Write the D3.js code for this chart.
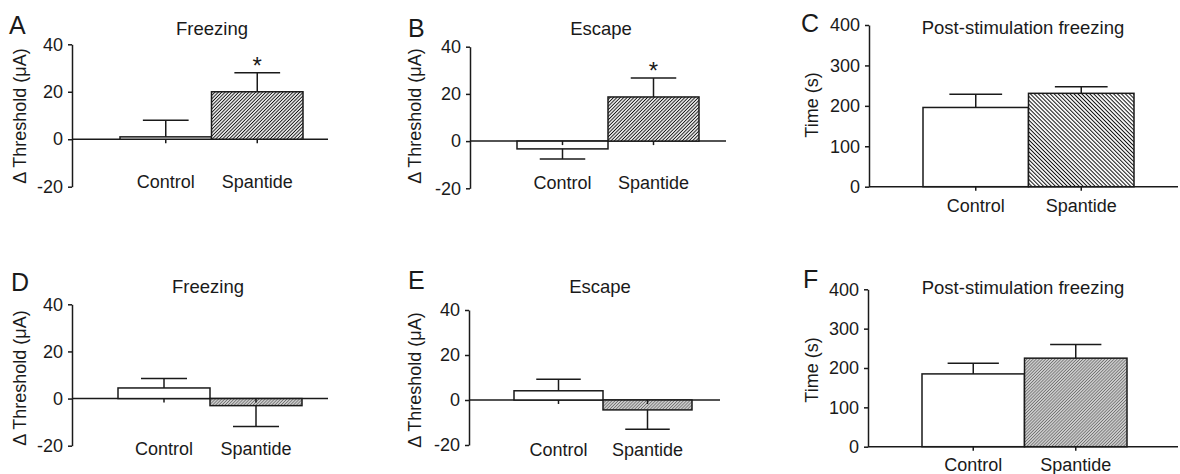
<!DOCTYPE html>
<html>
<head>
<script src="https://d3js.org/d3.v7.min.js"></script>
<style>
  body { margin: 0; background: #fff; }
  svg text { font-family: "Liberation Sans", Arial, sans-serif; fill: #1a1a1a; }
</style>
</head>
<body>
<svg width="1180" height="474"></svg>
<script>
// data
const categories = ["Control", "Spantide"];
const thresholdTicks = [-20, 0, 20, 40];
const timeTicks = [0, 100, 200, 300, 400];

const freezingA = [1, 20];
const freezingAErr = [7, 8];
const starsA = ["", "*"];

const escapeB = [-3.3, 18.7];
const escapeBErr = [4.3, 8];
const starsB = ["", "*"];

const postC = [196, 231];
const postCErr = [33, 16];

const freezingD = [4.5, -3];
const freezingDErr = [4, 8.8];

const escapeE = [4.1, -4.4];
const escapeEErr = [5.1, 8.6];

const postF = [185, 225];
const postFErr = [27, 35];

const ink = "#1a1a1a";
const svg = d3.select("svg");

// hatch patterns
const defs = svg.append("defs");
function hatch(id, size, angle, bg, stroke, sw) {
  const p = defs.append("pattern")
    .attr("id", id)
    .attr("patternUnits", "userSpaceOnUse")
    .attr("width", size).attr("height", size)
    .attr("patternTransform", `rotate(${angle})`);
  p.append("rect").attr("width", size).attr("height", size).attr("fill", bg);
  p.append("line").attr("x1", size / 2).attr("x2", size / 2)
    .attr("y1", 0).attr("y2", size)
    .attr("stroke", stroke).attr("stroke-width", sw);
}
hatch("hatchAB", 2.4, 45, "#fff", "#111", 1);
hatch("hatchC", 2.8, -45, "#fff", "#111", 1);
hatch("hatchGrey", 2.2, 45, "#d0d0d0", "#6e6e6e", 0.8);

const panels = [
  { letter: "A", title: "Freezing", ylabel: "Δ Threshold (μA)", values: freezingA, errs: freezingAErr, stars: starsA,
    domain: [-20, 40], ticks: thresholdTicks, fill: "url(#hatchAB)",
    axisX: 72, yTop: 44.3, yBot: 186.7, barX0: 120, barX1: 303, lineEnd: 328,
    letterX: 9, letterY: 34, titleX: 212, titleY: 35, labelY: 188, ylabX: 26, ylabY: 116 },
  { letter: "B", title: "Escape", ylabel: "Δ Threshold (μA)", values: escapeB, errs: escapeBErr, stars: starsB,
    domain: [-20, 40], ticks: thresholdTicks, fill: "url(#hatchAB)",
    axisX: 470, yTop: 46.7, yBot: 188.3, barX0: 517, barX1: 699, lineEnd: 726,
    letterX: 408, letterY: 37, titleX: 601, titleY: 35, labelY: 189, ylabX: 421, ylabY: 116 },
  { letter: "C", title: "Post-stimulation freezing", ylabel: "Time (s)", values: postC, errs: postCErr, stars: null,
    domain: [0, 400], ticks: timeTicks, fill: "url(#hatchC)",
    axisX: 869, yTop: 25, yBot: 186.7, barX0: 923, barX1: 1134, lineEnd: 1178,
    letterX: 801, letterY: 32, titleX: 1023, titleY: 34, labelY: 212, ylabX: 818, ylabY: 105 },
  { letter: "D", title: "Freezing", ylabel: "Δ Threshold (μA)", values: freezingD, errs: freezingDErr, stars: null,
    domain: [-20, 40], ticks: thresholdTicks, fill: "url(#hatchGrey)",
    axisX: 72, yTop: 304.3, yBot: 445.7, barX0: 118, barX1: 302, lineEnd: 328,
    letterX: 11, letterY: 291, titleX: 208, titleY: 293, labelY: 455, ylabX: 26, ylabY: 378 },
  { letter: "E", title: "Escape", ylabel: "Δ Threshold (μA)", values: escapeE, errs: escapeEErr, stars: null,
    domain: [-20, 40], ticks: thresholdTicks, fill: "url(#hatchGrey)",
    axisX: 469, yTop: 310, yBot: 445, barX0: 514, barX1: 692, lineEnd: 720,
    letterX: 408, letterY: 289, titleX: 600, titleY: 293, labelY: 456, ylabX: 421, ylabY: 380 },
  { letter: "F", title: "Post-stimulation freezing", ylabel: "Time (s)", values: postF, errs: postFErr, stars: null,
    domain: [0, 400], ticks: timeTicks, fill: "url(#hatchGrey)",
    axisX: 868, yTop: 289.3, yBot: 446.7, barX0: 922, barX1: 1127, lineEnd: 1178,
    letterX: 803, letterY: 288, titleX: 1023, titleY: 294, labelY: 471, ylabX: 818, ylabY: 370 }
];

panels.forEach(p => {
  const g = svg.append("g");
  const y = d3.scaleLinear().domain(p.domain).range([p.yBot, p.yTop]);
  const x = d3.scaleBand().domain(categories).range([p.barX0, p.barX1]).padding(0);
  const half = x.bandwidth() / 2;

  // zero line
  g.append("line")
    .attr("x1", p.axisX).attr("x2", p.lineEnd)
    .attr("y1", y(0)).attr("y2", y(0))
    .attr("stroke", ink).attr("stroke-width", 1.5);

  // bars
  g.selectAll("rect.bar").data(p.values).join("rect")
    .attr("class", "bar")
    .attr("x", (d, i) => x(categories[i]))
    .attr("y", d => y(Math.max(0, d)))
    .attr("width", x.bandwidth())
    .attr("height", d => Math.abs(y(d) - y(0)))
    .attr("fill", (d, i) => i === 0 ? "#fff" : p.fill)
    .attr("stroke", ink).attr("stroke-width", 1.5);

  // one-sided error bars
  const eb = g.selectAll("g.err").data(p.values).join("g").attr("class", "err");
  eb.append("line")
    .attr("x1", (d, i) => x(categories[i]) + half)
    .attr("x2", (d, i) => x(categories[i]) + half)
    .attr("y1", d => y(d))
    .attr("y2", (d, i) => y(d + Math.sign(d) * p.errs[i]))
    .attr("stroke", ink).attr("stroke-width", 1.5);
  eb.append("line")
    .attr("x1", (d, i) => x(categories[i]) + half / 2)
    .attr("x2", (d, i) => x(categories[i]) + half * 1.5)
    .attr("y1", (d, i) => y(d + Math.sign(d) * p.errs[i]))
    .attr("y2", (d, i) => y(d + Math.sign(d) * p.errs[i]))
    .attr("stroke", ink).attr("stroke-width", 1.5);

  // significance stars
  if (p.stars) {
    g.selectAll("text.star").data(p.stars).join("text")
      .attr("class", "star")
      .attr("x", (d, i) => x(categories[i]) + half)
      .attr("y", (d, i) => y(p.values[i] + p.errs[i]) + 1)
      .attr("text-anchor", "middle")
      .attr("font-size", 24)
      .text(d => d);
  }

  // category ticks under the zero line
  g.append("g")
    .attr("transform", `translate(0,${y(0)})`)
    .call(d3.axisBottom(x).tickSize(4).tickSizeOuter(0).tickFormat(""))
    .call(a => a.select(".domain").remove())
    .call(a => a.selectAll("line").attr("stroke", ink).attr("stroke-width", 1.5));

  // category labels
  g.selectAll("text.cat").data(categories).join("text")
    .attr("class", "cat")
    .attr("x", d => x(d) + half)
    .attr("y", p.labelY)
    .attr("text-anchor", "middle")
    .attr("font-size", 18)
    .text(d => d);

  // y axis
  const ya = g.append("g")
    .attr("transform", `translate(${p.axisX},0)`)
    .call(d3.axisLeft(y).tickValues(p.ticks).tickFormat(d => String(d))
      .tickSize(4).tickPadding(5).tickSizeOuter(0));
  ya.select(".domain").attr("stroke", ink).attr("stroke-width", 1.5);
  ya.selectAll(".tick line").attr("stroke", ink).attr("stroke-width", 1.5);
  ya.selectAll(".tick text")
    .attr("font-size", 18)
    .attr("font-family", "Liberation Sans, Arial, sans-serif")
    .attr("fill", ink);

  // y label
  g.append("text")
    .attr("transform", `translate(${p.ylabX},${p.ylabY}) rotate(-90)`)
    .attr("text-anchor", "middle")
    .attr("font-size", 18)
    .text(p.ylabel);

  // title and panel letter
  g.append("text")
    .attr("x", p.titleX).attr("y", p.titleY)
    .attr("text-anchor", "middle")
    .attr("font-size", 18.5)
    .text(p.title);
  g.append("text")
    .attr("x", p.letterX).attr("y", p.letterY)
    .attr("font-size", 25)
    .text(p.letter);
});
</script>
</body>
</html>
